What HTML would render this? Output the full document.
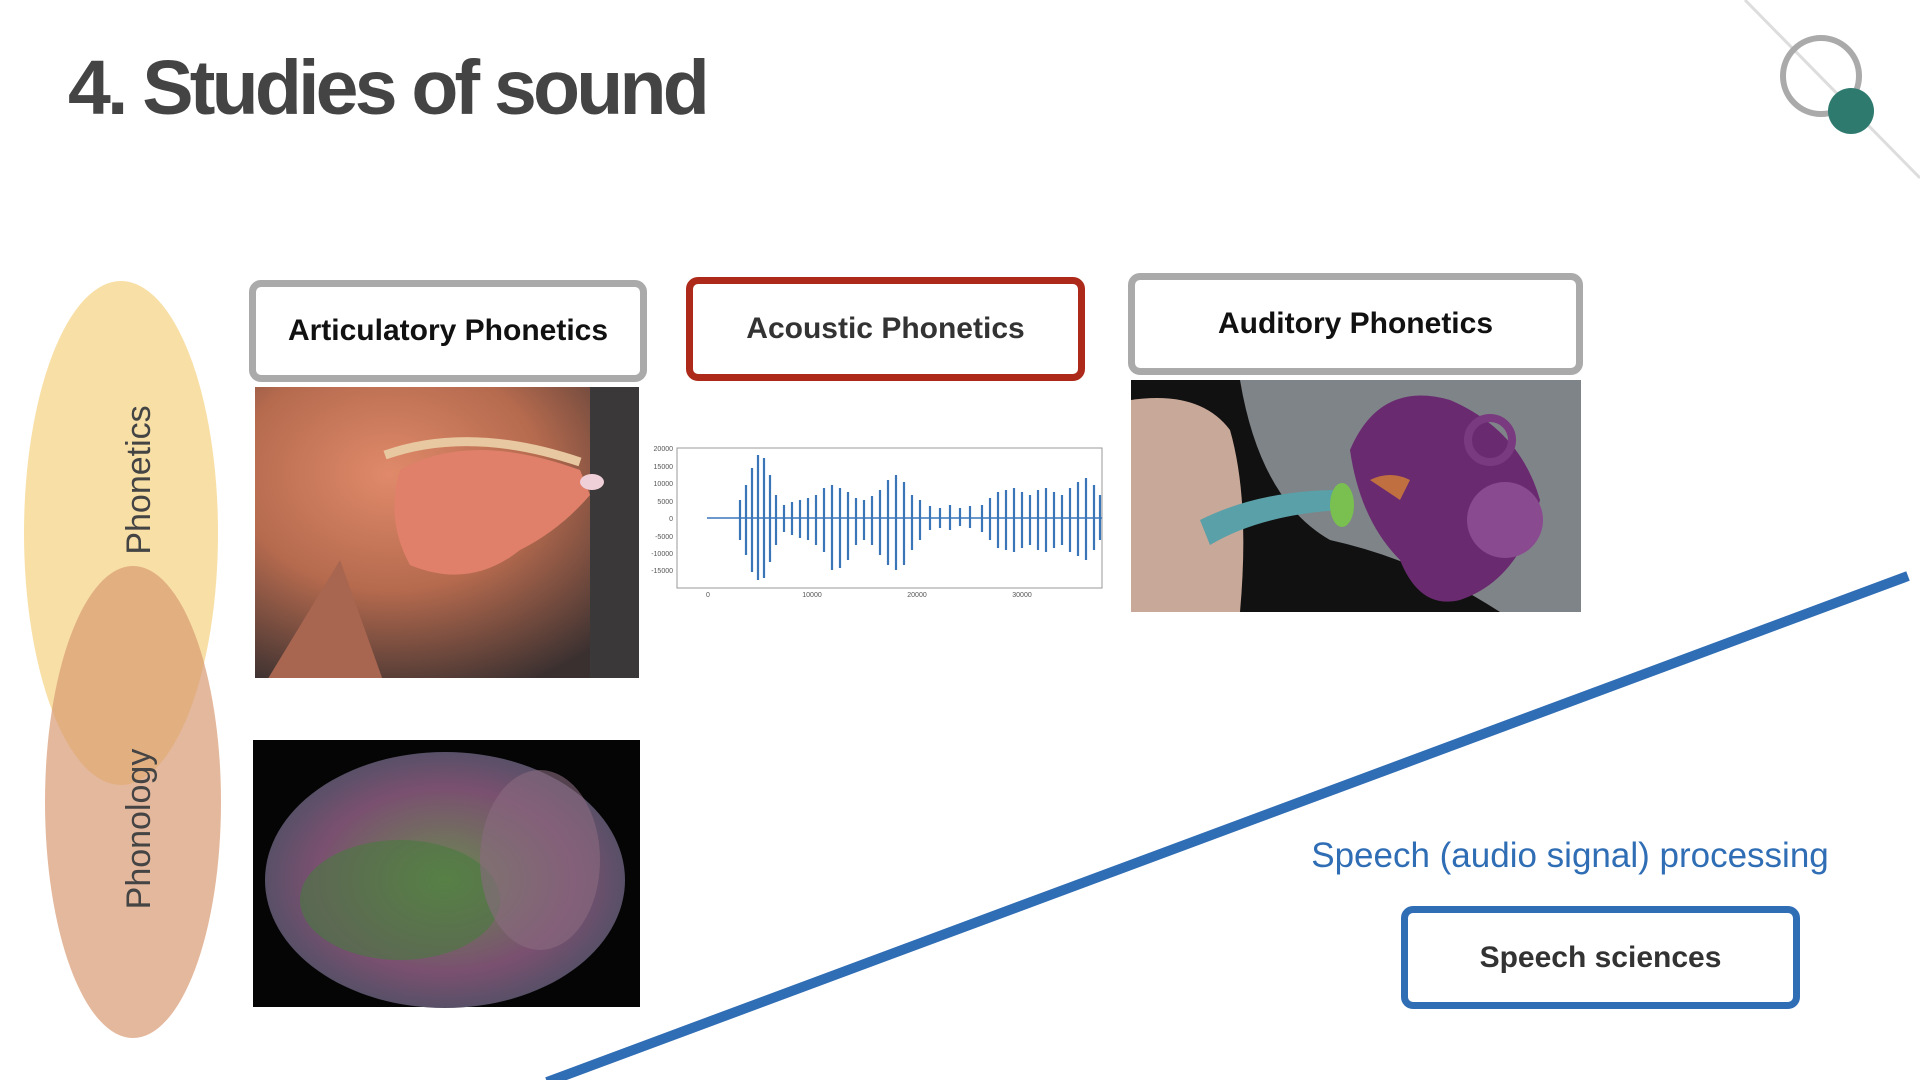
<!DOCTYPE html>
<html><head><meta charset="utf-8"><style>
body{margin:0;width:1920px;height:1080px;overflow:hidden;background:#fff;font-family:"Liberation Sans",sans-serif;position:relative}
.abs{position:absolute}
.box{position:absolute;box-sizing:border-box;border-radius:12px;background:#fff;display:flex;align-items:center;justify-content:center;font-weight:bold;font-size:30px;color:#111}
</style></head><body>
<div class="abs" style="left:68px;top:44px;font-size:77px;font-weight:bold;color:#444;letter-spacing:-3.8px">4. Studies of sound</div>
<svg class="abs" style="left:0;top:0" width="1920" height="1080">
<defs><radialGradient id="m" cx="0.35" cy="0.3" r="0.8"><stop offset="0" stop-color="#e08a6a"/><stop offset="0.5" stop-color="#b56a4e"/><stop offset="1" stop-color="#3a3030"/></radialGradient>
<radialGradient id="br" cx="0.5" cy="0.5" r="0.6"><stop offset="0" stop-color="#6a8a50"/><stop offset="0.6" stop-color="#7a5070"/><stop offset="1" stop-color="#405060"/></radialGradient>
<clipPath id="mc"><rect x="255" y="387" width="384" height="291"/></clipPath></defs>
<line x1="1745" y1="0" x2="1920" y2="178" stroke="#ddd" stroke-width="3"/>
<circle cx="1821" cy="76" r="38" fill="none" stroke="#aaa" stroke-width="6"/>
<circle cx="1851" cy="111" r="23" fill="#2e7a6e"/>
<ellipse cx="121" cy="533" rx="97" ry="252" fill="#f8dfa6"/>
<ellipse cx="133" cy="802" rx="88" ry="236" fill="#d99a72" opacity="0.7"/>
<text x="141" y="480" transform="rotate(-90 141 480)" text-anchor="middle" dominant-baseline="middle" font-size="34" fill="#444" font-family="Liberation Sans">Phonetics</text>
<text x="141" y="829" transform="rotate(-90 141 829)" text-anchor="middle" dominant-baseline="middle" font-size="34" fill="#444" font-family="Liberation Sans">Phonology</text>
<g clip-path="url(#mc)">
<rect x="255" y="387" width="384" height="291" fill="url(#m)"/>
<rect x="590" y="387" width="49" height="291" fill="#3a3838"/>
<path d="M400 470 Q470 430 580 470 L590 495 Q560 530 520 550 Q470 590 410 565 Q385 520 400 470Z" fill="#e0806a"/>
<path d="M340 560 L390 700 L255 700Z" fill="#a86650"/>
<path d="M385 455 Q470 425 580 462" stroke="#e8c8a0" stroke-width="9" fill="none"/>
<ellipse cx="592" cy="482" rx="12" ry="8" fill="#f0d0d8"/>
</g>
<rect x="677" y="448" width="425" height="140" fill="none" stroke="#999" stroke-width="1"/>
<g font-size="7" fill="#555" text-anchor="end">
<text x="673" y="451">20000</text><text x="673" y="469">15000</text><text x="673" y="486">10000</text><text x="673" y="504">5000</text><text x="673" y="521">0</text><text x="673" y="539">-5000</text><text x="673" y="556">-10000</text><text x="673" y="573">-15000</text></g>
<g font-size="7" fill="#555" text-anchor="middle"><text x="708" y="597">0</text><text x="812" y="597">10000</text><text x="917" y="597">20000</text><text x="1022" y="597">30000</text></g>
<line x1="707" y1="518" x2="1102" y2="518" stroke="#3a75b8" stroke-width="1.5"/>
<g stroke="#3a75b8" stroke-width="2.2">
<line x1="740" y1="500" x2="740" y2="540"/><line x1="746" y1="485" x2="746" y2="555"/><line x1="752" y1="468" x2="752" y2="572"/><line x1="758" y1="455" x2="758" y2="580"/><line x1="764" y1="458" x2="764" y2="578"/><line x1="770" y1="475" x2="770" y2="562"/><line x1="776" y1="495" x2="776" y2="545"/>
<line x1="784" y1="505" x2="784" y2="532"/><line x1="792" y1="502" x2="792" y2="535"/><line x1="800" y1="500" x2="800" y2="538"/><line x1="808" y1="498" x2="808" y2="540"/><line x1="816" y1="495" x2="816" y2="545"/><line x1="824" y1="488" x2="824" y2="552"/><line x1="832" y1="485" x2="832" y2="570"/><line x1="840" y1="488" x2="840" y2="568"/><line x1="848" y1="492" x2="848" y2="560"/><line x1="856" y1="498" x2="856" y2="545"/>
<line x1="864" y1="500" x2="864" y2="540"/><line x1="872" y1="496" x2="872" y2="545"/><line x1="880" y1="490" x2="880" y2="555"/><line x1="888" y1="480" x2="888" y2="565"/><line x1="896" y1="475" x2="896" y2="570"/><line x1="904" y1="482" x2="904" y2="565"/><line x1="912" y1="495" x2="912" y2="550"/><line x1="920" y1="500" x2="920" y2="540"/>
<line x1="930" y1="506" x2="930" y2="530"/><line x1="940" y1="508" x2="940" y2="528"/><line x1="950" y1="505" x2="950" y2="530"/><line x1="960" y1="508" x2="960" y2="526"/><line x1="970" y1="506" x2="970" y2="528"/>
<line x1="982" y1="505" x2="982" y2="532"/><line x1="990" y1="498" x2="990" y2="540"/><line x1="998" y1="492" x2="998" y2="548"/><line x1="1006" y1="490" x2="1006" y2="550"/><line x1="1014" y1="488" x2="1014" y2="552"/><line x1="1022" y1="492" x2="1022" y2="548"/><line x1="1030" y1="495" x2="1030" y2="545"/><line x1="1038" y1="490" x2="1038" y2="550"/><line x1="1046" y1="488" x2="1046" y2="552"/><line x1="1054" y1="492" x2="1054" y2="548"/><line x1="1062" y1="495" x2="1062" y2="545"/><line x1="1070" y1="488" x2="1070" y2="552"/><line x1="1078" y1="482" x2="1078" y2="556"/><line x1="1086" y1="478" x2="1086" y2="560"/><line x1="1094" y1="485" x2="1094" y2="550"/><line x1="1100" y1="495" x2="1100" y2="540"/>
</g>
<rect x="1131" y="380" width="450" height="232" fill="#111"/>
<path d="M1240 380 L1581 380 L1581 612 L1500 612 Q1420 560 1330 540 Q1260 500 1240 380Z" fill="#7f8488"/>
<path d="M1131 400 Q1200 390 1230 430 Q1250 500 1240 612 L1131 612Z" fill="#c8a898"/>
<path d="M1200 520 Q1260 490 1340 490 L1340 510 Q1260 515 1210 545Z" fill="#5aa0a8"/>
<ellipse cx="1342" cy="505" rx="12" ry="22" fill="#7ac050"/>
<path d="M1350 450 Q1380 380 1450 400 Q1520 430 1540 500 Q1520 580 1460 600 Q1420 610 1400 560 Q1360 520 1350 450Z" fill="#6a2a70"/>
<circle cx="1505" cy="520" r="38" fill="#8a4a90"/>
<circle cx="1490" cy="440" r="22" fill="none" stroke="#7a3a80" stroke-width="8"/>
<path d="M1370 480 Q1390 470 1410 480 L1400 500Z" fill="#c07040"/>
<rect x="253" y="740" width="387" height="267" fill="#050505"/>
<ellipse cx="445" cy="880" rx="180" ry="128" fill="url(#br)"/>
<ellipse cx="400" cy="900" rx="100" ry="60" fill="#4a7a40" opacity="0.6"/>
<ellipse cx="540" cy="860" rx="60" ry="90" fill="#8a6a80" opacity="0.6"/>
<line x1="547" y1="1082" x2="1908" y2="576" stroke="#2f6db5" stroke-width="10"/>
</svg>
<div class="box" style="left:249px;top:280px;width:398px;height:102px;border:7px solid #aaa">Articulatory Phonetics</div>
<div class="box" style="left:686px;top:277px;width:399px;height:104px;border:7px solid #ad2a1a;color:#333">Acoustic Phonetics</div>
<div class="box" style="left:1128px;top:273px;width:455px;height:102px;border:7px solid #aaa">Auditory Phonetics</div>
<div class="abs" style="left:1300px;top:836px;font-size:35px;color:#2f6db5;width:540px;text-align:center">Speech (audio signal) processing</div>
<div class="box" style="left:1401px;top:906px;width:399px;height:103px;border:7px solid #2f6db5;color:#333">Speech sciences</div>
</body></html>
